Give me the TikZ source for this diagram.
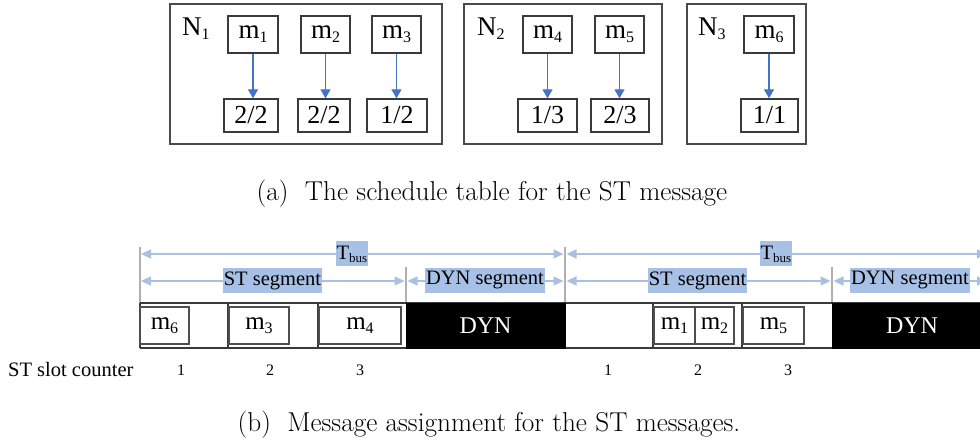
\documentclass[tikz,border=0pt]{standalone}
\usepackage{fontspec}
\newfontfamily\tnr{Liberation Serif}[Ligatures=TeX]
\usetikzlibrary{arrows.meta}

\definecolor{boxline}{HTML}{3A3A3A}
\definecolor{frameline}{HTML}{4A4A4A}
\definecolor{flowblue}{HTML}{4472C4}
\definecolor{dimline}{HTML}{A9C0E2}
\definecolor{tagfill}{HTML}{A7C1E6}
\definecolor{guide}{HTML}{B0B0B0}

% lowered subscript in the body font
\newcommand{\lowsub}[2][16]{\raisebox{-0.32ex}{\fontsize{#1}{#1}\selectfont #2}}

\tikzset{
  node frame/.style={draw=frameline, line width=1.6pt, minimum width=#1, minimum height=140pt, inner sep=0pt},
  msg/.style={draw=boxline, line width=1.4pt, minimum width=#1, minimum height=37pt, inner sep=0pt,
    font={\tnr\fontsize{27}{29}\selectfont}},
  frac/.style={draw=boxline, line width=1.4pt, minimum width=#1, minimum height=33pt, inner sep=0pt,
    font={\tnr\fontsize{26}{28}\selectfont}},
  nlabel/.style={anchor=base west, inner sep=0pt, font={\tnr\fontsize{27}{29}\selectfont}},
  flow/.style={draw=flowblue, line width=1.4pt, -{Triangle[width=10pt,length=9pt]}},
  caption/.style={inner sep=0pt, font={\fontsize{27.3}{30}\selectfont}},
  guideline/.style={draw=guide, line width=1.5pt},
  dim/.style={draw=dimline, line width=1.3pt,
    {Triangle[width=9pt,length=10pt]}-{Triangle[width=9pt,length=10pt]}},
  tag/.style={fill=tagfill, inner xsep=1pt, inner ysep=2pt, minimum height=25pt,
    font={\tnr\fontsize{20.5}{22}\selectfont}},
  slotmsg/.style={draw=boxline!90, line width=1.6pt, minimum height=37pt, inner sep=0pt,
    font={\tnr\fontsize{25}{27}\selectfont}},
  dynblock/.style={fill=black, draw=black, minimum height=45pt, inner sep=0pt,
    text=white, font={\tnr\fontsize{24}{26}\selectfont}},
  slotnum/.style={inner sep=0pt, font={\tnr\fontsize{16}{17}\selectfont}},
}

\begin{document}
\begin{tikzpicture}[x=1pt, y=-1pt]
\useasboundingbox (0,0) rectangle (980,446);

% ---------- (a) schedule tables of the three nodes ----------
\node[node frame=272pt] (N1) at (306,74) {};
\node[node frame=198pt] (N2) at (563,74) {};
\node[node frame=119pt] (N3) at (746.5,74) {};

\node[nlabel] (N1l) at (182,36) {N\lowsub{1}};
\node[nlabel] (N2l) at (477,36) {N\lowsub{2}};
\node[nlabel] (N3l) at (698,36) {N\lowsub{3}};

\node[msg=50pt] (m1) at (253,34.5)   {m\lowsub{1}};
\node[msg=49pt] (m2) at (325.5,34.5) {m\lowsub{2}};
\node[msg=49pt] (m3) at (396.5,34.5) {m\lowsub{3}};
\node[msg=49pt] (m4) at (547.5,34.5) {m\lowsub{4}};
\node[msg=49pt] (m5) at (619.5,34.5) {m\lowsub{5}};
\node[msg=50pt] (m6) at (769,34.5)   {m\lowsub{6}};

\node[frac=54pt] (f1) at (251,115.5)   {2/2};
\node[frac=52pt] (f2) at (324,115.5)   {2/2};
\node[frac=60pt] (f3) at (397,115.5)   {1/2};
\node[frac=59pt] (f4) at (547.5,115.5) {1/3};
\node[frac=58pt] (f5) at (620,115.5)   {2/3};
\node[frac=57pt] (f6) at (769.5,115.5) {1/1};

\foreach \i in {1,...,6}
  \draw[flow] (m\i.south) -- (m\i.south |- f\i.north);

\node[caption] (capA) at (492,194) {(a)\hspace{0.6em}The schedule table for the ST message};

% ---------- (b) two communication cycles ----------
% cycle boundaries and segment boundaries
\coordinate (c0) at (140,247);
\coordinate (c1) at (565,247);
\coordinate (c2) at (990,247);
\coordinate (s0) at (406,267);
\coordinate (s1) at (832,267);

\foreach \c in {c0,c1,c2}
  \draw[guideline] (\c) -- (\c |- 0,303);
\foreach \c in {s0,s1}
  \draw[guideline] (\c) -- (\c |- 0,303);

% bus cycle and segment dimensions
\draw[dim] ([xshift=1pt]c0 |- 0,254) -- ([xshift=-1.5pt]c1 |- 0,254);
\draw[dim] ([xshift=1.5pt]c1 |- 0,254) -- ([xshift=-3pt]c2 |- 0,254);
\draw[dim] ([xshift=1pt]c0 |- 0,281) -- ([xshift=-1.5pt]s0 |- 0,281);
\draw[dim] ([xshift=1.5pt]s0 |- 0,281) -- ([xshift=-1.5pt]c1 |- 0,281);
\draw[dim] ([xshift=1.5pt]c1 |- 0,281) -- ([xshift=-1.5pt]s1 |- 0,281);
\draw[dim] ([xshift=1.5pt]s1 |- 0,281) -- ([xshift=-3pt]c2 |- 0,281);

\node[tag] (tb1) at (352,254)   {T\lowsub[13]{bus}};
\node[tag] (tb2) at (776,254)   {T\lowsub[13]{bus}};
\node[tag] (st1) at (272.5,280.5) {ST segment};
\node[tag] (dy1) at (485,280.5)   {DYN segment};
\node[tag] (st2) at (697.5,280.5) {ST segment};
\node[tag] (dy2) at (910,280.5)   {DYN segment};

% slot row
\draw[draw=boxline, line width=1.4pt] (140,303) -- (990,303);
\draw[draw=boxline, line width=1.4pt] (140,348) -- (990,348);
\draw[draw=boxline, line width=1.4pt] (140,303) -- (140,348);
\foreach \x in {228,318,653,742}
  \draw[draw=boxline, line width=1.4pt] (\x,303) -- (\x,348);

\node[dynblock, minimum width=159pt] (dyn1) at (485.5,325.5) {DYN};
\node[dynblock, minimum width=160pt] (dyn2) at (912,325.5) {DYN};

\node[slotmsg, minimum width=49pt] (sm6) at (164.5,325.5) {m\lowsub{6}};
\node[slotmsg, minimum width=60pt] (sm3) at (259,325.5)   {m\lowsub{3}};
\node[slotmsg, minimum width=82pt] (sm4) at (360,325.5)   {m\lowsub{4}};
\node[slotmsg, minimum width=41pt] (sm1) at (674.5,325.5) {m\lowsub{1}};
\node[slotmsg, minimum width=39pt] (sm2) at (714.5,325.5) {m\lowsub{2}};
\node[slotmsg, minimum width=61pt] (sm5) at (773.5,325.5) {m\lowsub{5}};

% slot counter
\node[anchor=base west, inner sep=0pt, font={\tnr\fontsize{20.5}{22}\selectfont}] (sc) at (8,376) {ST slot counter};
\node[slotnum] (n11) at (181,370) {1};
\node[slotnum] (n12) at (270,370) {2};
\node[slotnum] (n13) at (360,370) {3};
\node[slotnum] (n21) at (608,370) {1};
\node[slotnum] (n22) at (698,370) {2};
\node[slotnum] (n23) at (788,370) {3};

\node[caption] (capB) at (489,425) {(b)\hspace{0.6em}Message assignment for the ST messages.};
\end{tikzpicture}
\end{document}
